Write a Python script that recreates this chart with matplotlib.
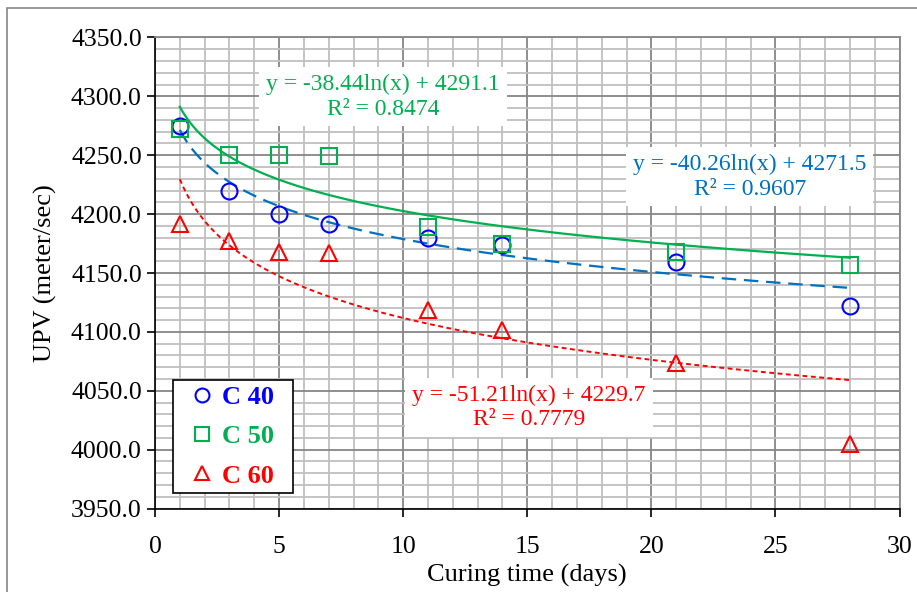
import matplotlib.pyplot as plt
import numpy as np
from matplotlib.lines import Line2D
from matplotlib.patches import Rectangle
from matplotlib.ticker import MultipleLocator, FormatStrFormatter

plt.rcParams['font.family'] = ['Liberation Serif', 'DejaVu Serif']

days = [1, 3, 5, 7, 11, 14, 21, 28]
c40 = [4275, 4220, 4200, 4192, 4180, 4174, 4159, 4122]
c50 = [4272, 4250, 4250, 4249, 4189, 4175, 4168, 4157]
c60 = [4192, 4177, 4168, 4167, 4119, 4102, 4074, 4005]

# trendline coefficients as shown on the chart: y = a*ln(x) + b
fit40 = (-40.26, 4271.5)
fit50 = (-38.44, 4291.1)
fit60 = (-51.21, 4229.7)
labels40 = "y = -40.26ln(x) + 4271.5\nR² = 0.9607"
labels50 = "y = -38.44ln(x) + 4291.1\nR² = 0.8474"
labels60 = "y = -51.21ln(x) + 4229.7\nR² = 0.7779"

blue = '#0000FF'
green = '#00B050'
red = '#FF0000'
trend_blue = '#0070C0'

fig = plt.figure(figsize=(9.17, 5.92), dpi=100)
ax = fig.add_axes([0.169, 0.141, 0.812, 0.7957])

# outer chart border
fig.patches.append(Rectangle((7 / 917, -0.5), 2, 1.5 - 8 / 592, transform=fig.transFigure,
                             fill=False, edgecolor='#868686', linewidth=1.2))

xs = np.linspace(1, 28, 200)
ax.plot(xs, fit50[0] * np.log(xs) + fit50[1], color=green, lw=1.6, zorder=3)
ax.plot(xs, fit40[0] * np.log(xs) + fit40[1], color=trend_blue, lw=1.6, ls=(0, (6.5, 3.5)), zorder=3)
ax.plot(xs, fit60[0] * np.log(xs) + fit60[1], color=red, lw=1.4, ls=(0, (2.5, 1.8)), zorder=3)

ax.plot(days, c40, 'o', mfc='none', mec=blue, ms=11.5, mew=1.5, zorder=4)
ax.plot(days, c50, 's', mfc='none', mec=green, ms=11, mew=1.5, zorder=4)
ax.plot(days, c60, '^', mfc='none', mec=red, ms=12, mew=1.5, zorder=4)

ax.set_xlim(0, 30)
ax.set_ylim(3950, 4350)
ax.xaxis.set_major_locator(MultipleLocator(5))
ax.xaxis.set_minor_locator(MultipleLocator(1))
ax.yaxis.set_major_locator(MultipleLocator(50))
ax.yaxis.set_minor_locator(MultipleLocator(10))
ax.yaxis.set_major_formatter(FormatStrFormatter('%.1f'))
ax.grid(which='major', color='#868686', lw=1.3, zorder=0)
ax.grid(which='minor', color='#BFBFBF', lw=1.3, zorder=0)
ax.set_axisbelow(True)
ax.tick_params(which='major', direction='out', length=6, width=1.2, labelsize=18.5, colors='black')
ax.tick_params(which='minor', length=0)
ax.tick_params(axis='x', pad=14)
for s in ['left', 'bottom']:
    ax.spines[s].set_color('black')
    ax.spines[s].set_linewidth(1.2)
for s in ['top', 'right']:
    ax.spines[s].set_color('#868686')
    ax.spines[s].set_linewidth(1.3)

ax.set_xlabel('Curing time (days)', fontsize=19, labelpad=4)
ax.set_ylabel('UPV (meter/sec)', fontsize=19, labelpad=10)

box = dict(facecolor='white', edgecolor='none', pad=5)
ax.text(9.19, 4299.5, labels50, color=green, fontsize=17, ha='center', va='center',
        multialignment='center', bbox=box, zorder=5)
ax.text(23.97, 4231.6, labels40, color=trend_blue, fontsize=17, ha='center', va='center',
        multialignment='center', bbox=box, zorder=5)
ax.text(15.07, 4036, labels60, color=red, fontsize=17, ha='center', va='center',
        multialignment='center', bbox=box, zorder=5)

handles = [
    Line2D([], [], ls='none', marker='o', mfc='none', mec=blue, ms=10, mew=1.5),
    Line2D([], [], ls='none', marker='s', mfc='none', mec=green, ms=9.5, mew=1.5),
    Line2D([], [], ls='none', marker='^', mfc='none', mec=red, ms=10.5, mew=1.5),
]
leg = ax.legend(handles, ['C 40', 'C 50', 'C 60'], loc='lower left',
                bbox_to_anchor=(0.024, 0.033, 0.161, 0.2), mode='expand', borderaxespad=0,
                fancybox=False, edgecolor='black', framealpha=1, handlelength=1.8,
                handletextpad=-0.15, labelspacing=0.6, borderpad=0.2,
                prop={'size': 19, 'weight': 'bold'}, labelcolor=[blue, green, red])
leg.get_frame().set_linewidth(1.2)
leg.set_zorder(6)

plt.savefig('out.png', dpi=100)
